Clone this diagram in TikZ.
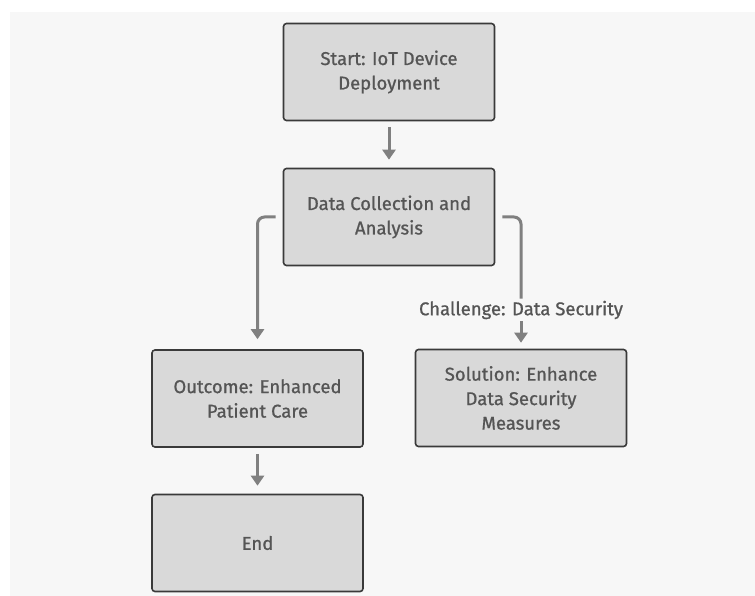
\documentclass[tikz,border=0pt]{standalone}
\usepackage{fontspec}
\setmainfont{Fira Sans}
\newfontfamily\boxfont{Fira Sans}[FakeBold=0.9]
\usetikzlibrary{arrows.meta}
\definecolor{bgc}{HTML}{F7F7F7}
\definecolor{boxfill}{HTML}{D9D9D9}
\definecolor{boxline}{HTML}{3A3A3A}
\definecolor{txt}{HTML}{555555}
\definecolor{arr}{HTML}{808080}
\begin{document}
\begin{tikzpicture}[x=1pt,y=-1pt,
  flowbox/.style={draw=boxline,line width=1.6pt,fill=boxfill,rounded corners=3pt,
    minimum width=211pt,minimum height=97pt,inner sep=0pt,align=center,
    text=txt,font=\boxfont\fontsize{18.5}{24.5}\selectfont},
  conn/.style={draw=arr,line width=3pt,rounded corners=7pt,
    -{Triangle[width=13pt,length=10pt]}},
  plain/.style={draw=arr,line width=3pt,rounded corners=7pt},
  lbl/.style={text=txt,font=\boxfont\fontsize{18.5}{22}\selectfont,inner sep=2pt}]
\useasboundingbox (0,0) rectangle (755,596);
\fill[white] (0,0) rectangle (755,596);
\fill[bgc] (10,12) rectangle (755,596);
\node[flowbox] (start) at (389,72) {Start: IoT Device\\Deployment};
\node[flowbox] (dc) at (389,217) {Data Collection and\\Analysis};
\node[flowbox] (out) at (257.5,398.5) {Outcome: Enhanced\\Patient Care};
\node[flowbox] (sol) at (521,398) {Solution: Enhance\\Data Security\\Measures};
\node[flowbox] (end) at (257.5,543) {End};
\node[lbl] (ch) at (521,310) {Challenge: Data Security};
\draw[conn,shorten <=6pt,shorten >=8pt] (start.south) -- (dc.north);
\draw[conn,shorten <=7pt,shorten >=10pt] (dc.west) -| (out.north);
\draw[plain,shorten <=7pt] (dc.east) -| (ch.north);
\draw[conn,shorten >=6pt] (ch.south) -- (sol.north);
\draw[conn,shorten <=6pt,shorten >=8pt] (out.south) -- (end.north);
\end{tikzpicture}
\end{document}
